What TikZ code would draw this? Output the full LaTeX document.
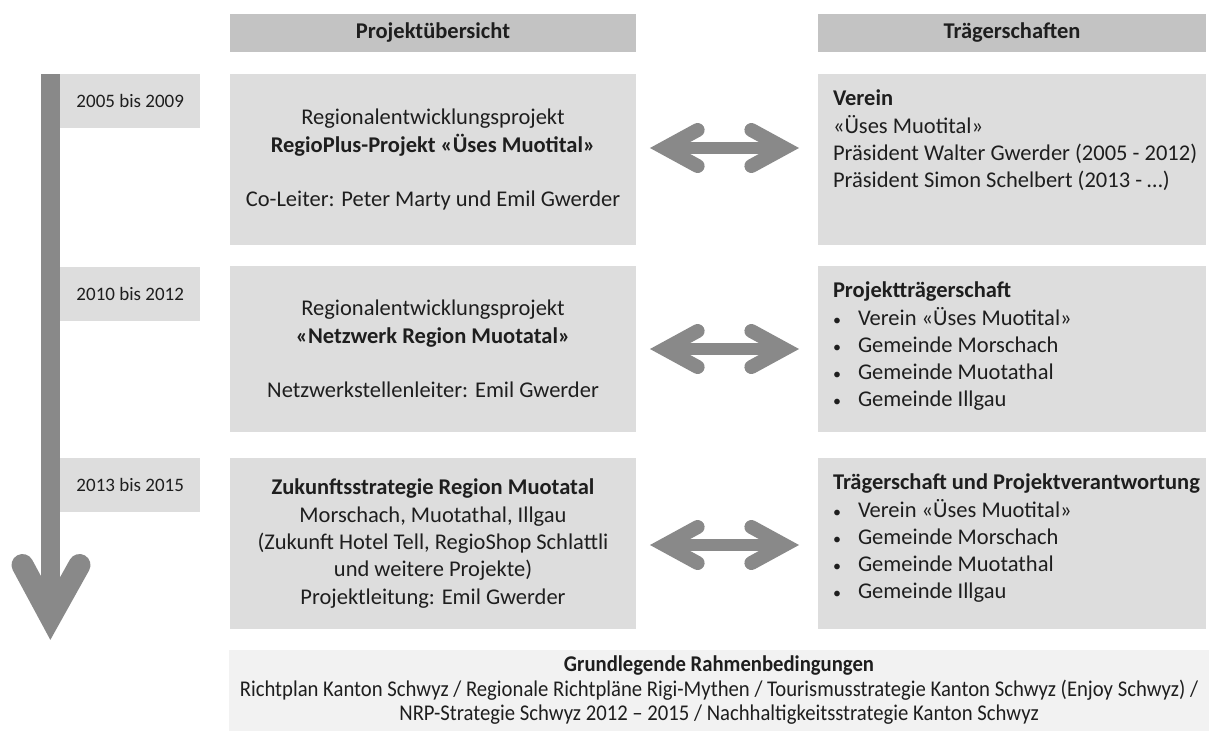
\documentclass[tikz,border=0pt]{standalone}
\usepackage{fontspec}
\setmainfont{Carlito}
\newfontfamily\narrowfont[FakeStretch=0.92]{Carlito}
\usetikzlibrary{positioning,calc}

\definecolor{boxgray}{HTML}{DDDDDD}
\definecolor{headgray}{HTML}{C3C3C3}
\definecolor{arrgray}{HTML}{898989}
\definecolor{basegray}{HTML}{F2F2F2}
\definecolor{txt}{HTML}{1E1E1E}

\newcommand{\blt}{\makebox[25pt][l]{{\fontsize{16}{16}\selectfont\textbullet}}}

\tikzset{
  headbox/.style={fill=headgray, minimum height=38pt, inner sep=0pt, font=\fontsize{22.5}{27}\selectfont\bfseries},
  projbox/.style={fill=boxgray, minimum width=406pt, inner sep=0pt, align=center},
  traegbox/.style={fill=boxgray, minimum width=388pt, inner sep=0pt},
  traegtext/.style={anchor=north west, inner sep=0pt, align=left},
  yearbox/.style={fill=boxgray, minimum width=140pt, minimum height=54pt, inner sep=0pt, font=\fontsize{19}{22}\selectfont},
  dshaft/.style={arrgray, line width=12pt},
  dhead/.style={arrgray, line width=14pt, line cap=round, line join=miter},
}

\begin{document}
\begin{tikzpicture}[x=1pt, y=-1pt, text=txt, font=\fontsize{22.5}{27.3}\selectfont]
\useasboundingbox (0,0) rectangle (1209,731);

\node [headbox, minimum width=406pt] (hproj) at (433,33) {Projektübersicht};
\node [headbox, minimum width=388pt] (htraeg) at (1012,33) {Trägerschaften};

\node [projbox, minimum height=171pt] (proj1) at (433,159.5) {Regionalentwicklungsprojekt\\ \textbf{RegioPlus-Projekt «Üses Muotital»}\\[27pt] Co-Leiter: Peter Marty und Emil Gwerder};
\node [projbox, minimum height=166pt] (proj2) at (433,349) {Regionalentwicklungsprojekt\\ \textbf{«Netzwerk Region Muotatal»}\\[27pt] Netzwerkstellenleiter: Emil Gwerder};
\node [projbox, minimum height=171pt] (proj3) at (433,543.5) {\textbf{Zukunftsstrategie Region Muotatal}\\ Morschach, Muotathal, Illgau\\ (Zukunft Hotel Tell, RegioShop Schlattli\\ und weitere Projekte)\\ Projektleitung: Emil Gwerder};

\node [traegbox, minimum height=171pt] (traeg1) at (1012,159.5) {};
\node [traegbox, minimum height=166pt] (traeg2) at (1012,349) {};
\node [traegbox, minimum height=171pt] (traeg3) at (1012,543.5) {};

\node [traegtext] (tt1) at ([xshift=15pt, yshift=-16pt]traeg1.north west) {\textbf{Verein}\\ «Üses Muotital»\\ Präsident Walter Gwerder (2005 - 2012)\\ Präsident Simon Schelbert (2013 - …)};
\node [traegtext] (tt2) at ([xshift=15pt, yshift=-16pt]traeg2.north west) {\textbf{Projektträgerschaft}\\ \blt Verein «Üses Muotital»\\ \blt Gemeinde Morschach\\ \blt Gemeinde Muotathal\\ \blt Gemeinde Illgau};
\node [traegtext] (tt3) at ([xshift=15pt, yshift=-16pt]traeg3.north west) {\textbf{Trägerschaft und Projektverantwortung}\\ \blt Verein «Üses Muotital»\\ \blt Gemeinde Morschach\\ \blt Gemeinde Muotathal\\ \blt Gemeinde Illgau};

\node [yearbox, anchor=north west] (year1) at (60,74) {2005 bis 2009};
\node [yearbox, anchor=north west] (year2) at (60,267) {2010 bis 2012};
\node [yearbox, anchor=north west] (year3) at (60,458) {2013 bis 2015};

\node [fill=basegray, minimum width=980pt, minimum height=81pt, inner sep=0pt, align=center, font=\narrowfont\fontsize{22.5}{24.5}\selectfont] (base) at (719,690.5) {\textbf{Grundlegende Rahmenbedingungen}\\ Richtplan Kanton Schwyz / Regionale Richtpläne Rigi-Mythen / Tourismusstrategie Kanton Schwyz (Enjoy Schwyz) /\\ NRP-Strategie Schwyz 2012 – 2015 / Nachhaltigkeitsstrategie Kanton Schwyz};

\coordinate (ttop) at (50.5,74);
\coordinate (tvert) at (50.5,617);
\draw [arrgray, line width=19pt] (ttop) -- (tvert);
\draw [arrgray, line width=22pt, line cap=round, line join=miter] ($(tvert)+(-28,-52)$) -- (tvert) -- ($(tvert)+(29,-52)$);

\foreach \r/\y in {1/148,2/349,3/545} {
  \coordinate (al\r) at (664.6,\y);
  \coordinate (ar\r) at (784.4,\y);
  \draw [dshaft] (al\r) -- (ar\r);
  \draw [dhead] ($(al\r)+(33,-18)$) -- (al\r) -- ($(al\r)+(33,18)$);
  \draw [dhead] ($(ar\r)+(-33,-18)$) -- (ar\r) -- ($(ar\r)+(-33,18)$);
}
\end{tikzpicture}
\end{document}
